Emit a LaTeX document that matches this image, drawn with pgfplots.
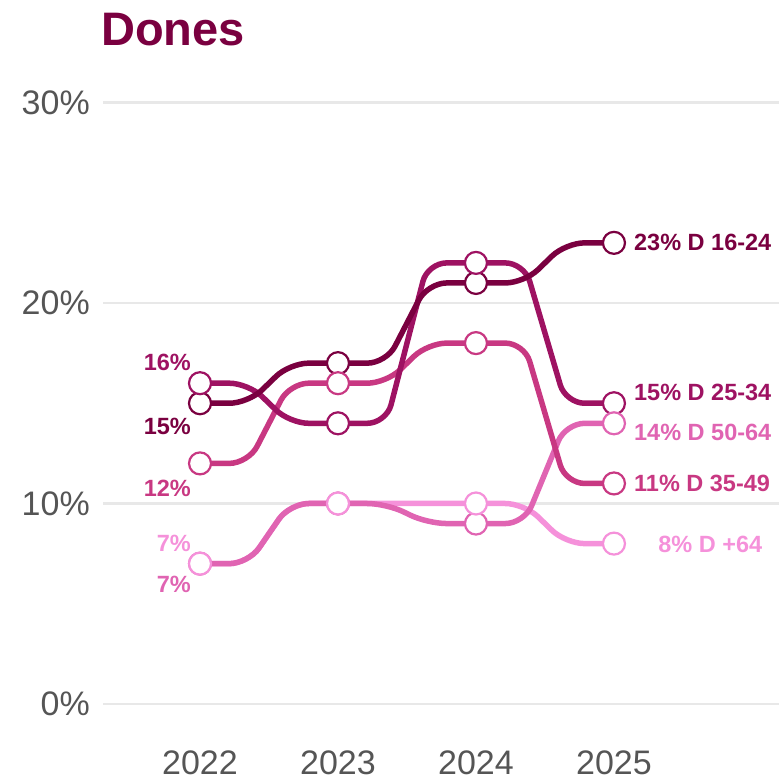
\documentclass[border=0pt]{standalone}
\usepackage{pgfplots}
\pgfplotsset{compat=1.18}
\usepackage{fontspec}
\setmainfont{Liberation Sans}
\definecolor{c1}{RGB}{122,0,64}
\definecolor{c2}{RGB}{158,18,98}
\definecolor{c3}{RGB}{200,56,130}
\definecolor{c4}{RGB}{224,100,178}
\definecolor{c5}{RGB}{245,145,218}
\definecolor{tickgray}{RGB}{85,85,85}
\definecolor{gridgray}{RGB}{232,232,232}
\begin{document}
\begin{tikzpicture}[x=1pt,y=1pt]
\path[use as bounding box] (0,0) rectangle (779,780);
\begin{axis}[at={(103pt,35.9pt)}, anchor=south west, scale only axis,
  width=676pt, height=681.7pt,
  xmin=2021.297, xmax=2026.196, ymin=-2, ymax=32,
  clip=false,
  axis line style={draw=none},
  major tick length=0pt,
  ymajorgrids, grid style={gridgray, line width=2.5pt},
  xtick={2022,2023,2024,2025}, xticklabels={2022,2023,2024,2025},
  ytick={0,10,20,30},
  yticklabel={\pgfmathprintnumber{\tick}\%},
  /pgf/number format/assume math mode=true,
  yticklabel style={anchor=east, inner sep=0pt, xshift=-13pt, color=tickgray, font=\fontsize{34}{34}\selectfont},
  xticklabel style={anchor=north, inner sep=0pt, yshift=-6pt, color=tickgray, font=\fontsize{34}{34}\selectfont},
  every axis plot/.append style={line width=5.5pt, rounded corners=19pt},
]
% lines (step-style with rounded transitions), drawn from lightest to darkest
\addplot[c5, no marks] coordinates {(2022,7)(2022.35,7)(2022.65,10)(2023,10)(2023.35,10)(2023.65,10)(2024,10)(2024.35,10)(2024.65,8)(2025,8)};
\addplot[c4, no marks] coordinates {(2022,7)(2022.35,7)(2022.65,10)(2023,10)(2023.35,10)(2023.65,9)(2024,9)(2024.35,9)(2024.65,14)(2025,14)};
\addplot[c3, no marks] coordinates {(2022,12)(2022.35,12)(2022.65,16)(2023,16)(2023.35,16)(2023.65,18)(2024,18)(2024.35,18)(2024.65,11)(2025,11)};
\addplot[c2, no marks] coordinates {(2022,16)(2022.35,16)(2022.65,14)(2023,14)(2023.35,14)(2023.65,22)(2024,22)(2024.35,22)(2024.65,15)(2025,15)};
\addplot[c1, no marks] coordinates {(2022,15)(2022.35,15)(2022.65,17)(2023,17)(2023.35,17)(2023.65,21)(2024,21)(2024.35,21)(2024.65,23)(2025,23)};
% markers
\addplot[only marks, mark=*, mark size=11pt, mark options={fill=white, draw=c1, line width=2.2pt}] coordinates {(2022,15)(2023,17)(2024,21)(2025,23)};
\addplot[only marks, mark=*, mark size=11pt, mark options={fill=white, draw=c2, line width=2.2pt}] coordinates {(2022,16)(2023,14)(2024,22)(2025,15)};
\addplot[only marks, mark=*, mark size=11pt, mark options={fill=white, draw=c3, line width=2.2pt}] coordinates {(2022,12)(2023,16)(2024,18)(2025,11)};
\addplot[only marks, mark=*, mark size=11pt, mark options={fill=white, draw=c4, line width=2.2pt}] coordinates {(2022,7)(2023,10)(2024,9)(2025,14)};
\addplot[only marks, mark=*, mark size=11pt, mark options={fill=white, draw=c5, line width=2.2pt}] coordinates {(2022,7)(2023,10)(2024,10)(2025,8)};
% left labels
\begin{scope}[every node/.style={font=\bfseries\fontsize{23.5}{24}\selectfont, inner sep=0pt}]
\node[anchor=east, text=c2] at (axis cs:2021.935,17.06) {16\%};
\node[anchor=east, text=c1] at (axis cs:2021.935,13.82) {15\%};
\node[anchor=east, text=c3] at (axis cs:2021.935,10.77) {12\%};
\node[anchor=east, text=c5] at (axis cs:2021.935,8.03) {7\%};
\node[anchor=east, text=c4] at (axis cs:2021.935,5.94) {7\%};
% right labels
\node[anchor=west, text=c1] at (axis cs:2025.145,23.0) {23\% D 16-24};
\node[anchor=west, text=c2] at (axis cs:2025.145,15.55) {15\% D 25-34};
\node[anchor=west, text=c4] at (axis cs:2025.145,13.55) {14\% D 50-64};
\node[anchor=west, text=c3] at (axis cs:2025.145,11.0) {11\% D 35-49};
\node[anchor=west, text=c5] at (axis cs:2025.32,7.95) {8\% D +64};
\end{scope}
\end{axis}
\node[anchor=base west, inner sep=0pt, text=c1, font=\bfseries\fontsize{47}{47}\selectfont] at (101,734) {Dones};
\end{tikzpicture}
\end{document}
